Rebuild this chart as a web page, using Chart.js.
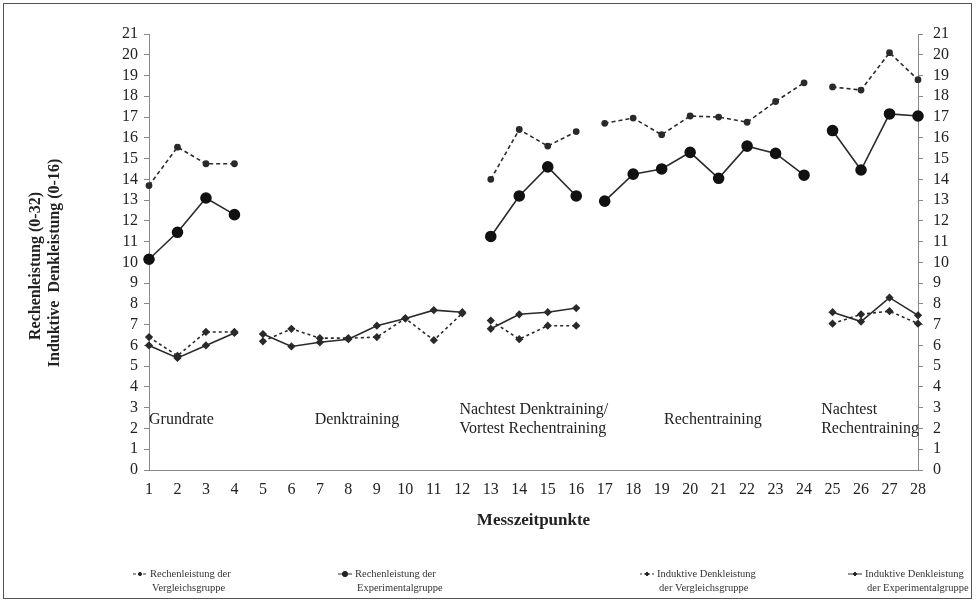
<!DOCTYPE html>
<html>
<head>
<meta charset="utf-8">
<script src="https://cdn.jsdelivr.net/npm/chart.js@4.4.1/dist/chart.umd.min.js"></script>
<style>
  html, body { margin: 0; padding: 0; background: #fff; }
  #wrap { position: relative; width: 976px; height: 603px; }
  #frame { position: absolute; left: 3px; top: 3px; width: 967px; height: 594px; border: 1px solid #555; pointer-events: none; }
  canvas { position: absolute; left: 0; top: 0; }
</style>
</head>
<body>
<div id="wrap">
  <canvas id="chart" width="976" height="603"></canvas>
  <div id="frame"></div>
</div>
<script>
const messzeitpunkte = ["1","2","3","4","5","6","7","8","9","10","11","12","13","14","15","16","17","18","19","20","21","22","23","24","25","26","27","28"];

// Rechenleistung (0-32)
const rechenVergleich = [13.7, 15.55, 14.75, 14.75, null, null, null, null, null, null, null, null,
  14.0, 16.4, 15.6, 16.3, 16.7, 16.95, 16.15, 17.05, 17.0, 16.75, 17.75, 18.65, 18.45, 18.3, 20.1, 18.8];
const rechenExperimental = [10.15, 11.45, 13.1, 12.3, null, null, null, null, null, null, null, null,
  11.25, 13.2, 14.6, 13.2, 12.95, 14.25, 14.5, 15.3, 14.05, 15.6, 15.25, 14.2, 16.35, 14.45, 17.15, 17.05];

// Induktive Denkleistung (0-16)
const denkVergleich = [6.4, 5.5, 6.65, 6.65, 6.2, 6.8, 6.35, 6.35, 6.4, 7.3, 6.25, 7.55,
  7.2, 6.3, 6.95, 6.95, null, null, null, null, null, null, null, null, 7.05, 7.5, 7.65, 7.05];
const denkExperimental = [6.0, 5.4, 6.0, 6.6, 6.55, 5.95, 6.15, 6.3, 6.95, 7.3, 7.7, 7.6,
  6.8, 7.5, 7.6, 7.8, null, null, null, null, null, null, null, null, 7.6, 7.15, 8.3, 7.45];

// letzter Messzeitpunkt jeder Phase (Linie wird danach unterbrochen)
const phasenEnde = ["4", "12", "16", "24"];

const phasen = [
  { lines: ["Grundrate"], at: 1, align: "left" },
  { lines: ["Denktraining"], at: 8.3, align: "center" },
  { lines: ["Nachtest Denktraining/", "Vortest Rechentraining"], at: 11.9, align: "left" },
  { lines: ["Rechentraining"], at: 20.8, align: "center" },
  { lines: ["Nachtest", "Rechentraining"], at: 24.6, align: "left" }
];

const legendItems = [
  { lines: ["Rechenleistung der", "Vergleichsgruppe"], x: 133, dash: [3, 2], style: "circle", r: 1.6 },
  { lines: ["Rechenleistung der", "Experimentalgruppe"], x: 338, dash: [], style: "circle", r: 2.6 },
  { lines: ["Induktive Denkleistung", "der Vergleichsgruppe"], x: 640, dash: [2, 2], style: "rectRot", r: 2 },
  { lines: ["Induktive Denkleistung", "der Experimentalgruppe"], x: 848, dash: [], style: "rectRot", r: 2 }
];

const INK = "#2a2a2a";
const SERIF = '"Liberation Serif", "DejaVu Serif", serif';

function brokenSegment(color) {
  return (ctx) => phasenEnde.includes(messzeitpunkte[ctx.p0DataIndex]) ? "rgba(0,0,0,0)" : color;
}

const textPlugin = {
  id: "textPlugin",
  afterDraw(chart) {
    const ctx = chart.ctx;
    const x = chart.scales.x;
    const step = x.getPixelForValue(1) - x.getPixelForValue(0);
    const area = chart.chartArea;
    ctx.save();
    ctx.fillStyle = "#222";
    ctx.textBaseline = "middle";

    // Phasen
    ctx.font = "16px " + SERIF;
    phasen.forEach((p) => {
      const px = x.getPixelForValue(0) + (p.at - 1) * step;
      ctx.textAlign = p.align;
      const y0 = p.lines.length === 1 ? 420 : 410;
      p.lines.forEach((t, i) => ctx.fillText(t, px, y0 + i * 19));
    });

    // Achsentitel
    ctx.font = "bold 17px " + SERIF;
    ctx.textAlign = "center";
    ctx.fillText("Messzeitpunkte", (area.left + area.right) / 2, 521);
    ctx.font = "bold 16px " + SERIF;
    ctx.save();
    ctx.translate(36, 266);
    ctx.rotate(-Math.PI / 2);
    ctx.fillText("Rechenleistung (0-32)", 0, 0);
    ctx.restore();
    ctx.save();
    ctx.translate(55, 263);
    ctx.rotate(-Math.PI / 2);
    ctx.fillText("Induktive  Denkleistung (0-16)", 0, 0);
    ctx.restore();

    // Legende
    ctx.font = "10.5px " + SERIF;
    ctx.textAlign = "left";
    legendItems.forEach((it) => {
      const y = 574;
      ctx.save();
      ctx.strokeStyle = "#333";
      ctx.lineWidth = 1;
      ctx.setLineDash(it.dash);
      ctx.beginPath();
      ctx.moveTo(it.x, y);
      ctx.lineTo(it.x + 14, y);
      ctx.stroke();
      ctx.setLineDash([]);
      ctx.fillStyle = "#222";
      Chart.helpers.drawPoint(ctx, { pointStyle: it.style, radius: it.r, borderWidth: 1 }, it.x + 7, y);
      ctx.fill();
      ctx.restore();
      ctx.fillStyle = "#333";
      ctx.fillText(it.lines[0], it.x + 17, y);
      ctx.fillText(it.lines[1], it.x + 19, y + 14);
    });
    ctx.restore();
  }
};

new Chart(document.getElementById("chart"), {
  type: "line",
  data: {
    labels: messzeitpunkte,
    datasets: [
      {
        label: "Rechenleistung der Vergleichsgruppe",
        data: rechenVergleich,
        borderColor: INK,
        borderWidth: 1.6,
        borderDash: [4, 3],
        pointStyle: "circle",
        pointRadius: 2.6,
        pointBackgroundColor: INK,
        pointBorderColor: INK,
        segment: { borderColor: brokenSegment(INK) }
      },
      {
        label: "Rechenleistung der Experimentalgruppe",
        data: rechenExperimental,
        borderColor: INK,
        borderWidth: 1.6,
        pointStyle: "circle",
        pointRadius: 5,
        pointBackgroundColor: "#111",
        pointBorderColor: "#111",
        segment: { borderColor: brokenSegment(INK) }
      },
      {
        label: "Induktive Denkleistung der Vergleichsgruppe",
        data: denkVergleich,
        borderColor: INK,
        borderWidth: 1.6,
        borderDash: [3, 3],
        pointStyle: "rectRot",
        pointRadius: 3,
        pointBackgroundColor: INK,
        pointBorderColor: INK,
        segment: { borderColor: brokenSegment(INK) }
      },
      {
        label: "Induktive Denkleistung der Experimentalgruppe",
        data: denkExperimental,
        borderColor: INK,
        borderWidth: 1.6,
        pointStyle: "rectRot",
        pointRadius: 3,
        pointBackgroundColor: INK,
        pointBorderColor: INK,
        segment: { borderColor: brokenSegment(INK) }
      }
    ]
  },
  options: {
    responsive: false,
    animation: false,
    spanGaps: false,
    layout: { padding: { top: 34, left: 0, right: 0, bottom: 0 } },
    plugins: {
      legend: { display: false },
      tooltip: { enabled: false }
    },
    scales: {
      x: {
        offset: false,
        grid: { drawOnChartArea: false, drawTicks: false },
        border: { color: "#888" },
        ticks: { color: "#222", padding: 10, maxRotation: 0, autoSkip: false, font: { family: SERIF, size: 16 } },
        afterFit: (s) => { s.height = 133; }
      },
      y: {
        position: "left",
        min: 0,
        max: 21,
        grid: { drawOnChartArea: false, tickLength: 5, color: "#888" },
        border: { color: "#888" },
        ticks: { stepSize: 1, autoSkip: false, color: "#222", padding: 6, font: { family: SERIF, size: 16 } },
        afterFit: (s) => { s.width = 149; }
      },
      y2: {
        position: "right",
        min: 0,
        max: 21,
        grid: { drawOnChartArea: false, tickLength: 5, color: "#888" },
        border: { color: "#888" },
        ticks: { stepSize: 1, autoSkip: false, color: "#222", padding: 10, font: { family: SERIF, size: 16 } },
        afterFit: (s) => { s.width = 58; }
      }
    }
  },
  plugins: [textPlugin]
});
</script>
</body>
</html>
